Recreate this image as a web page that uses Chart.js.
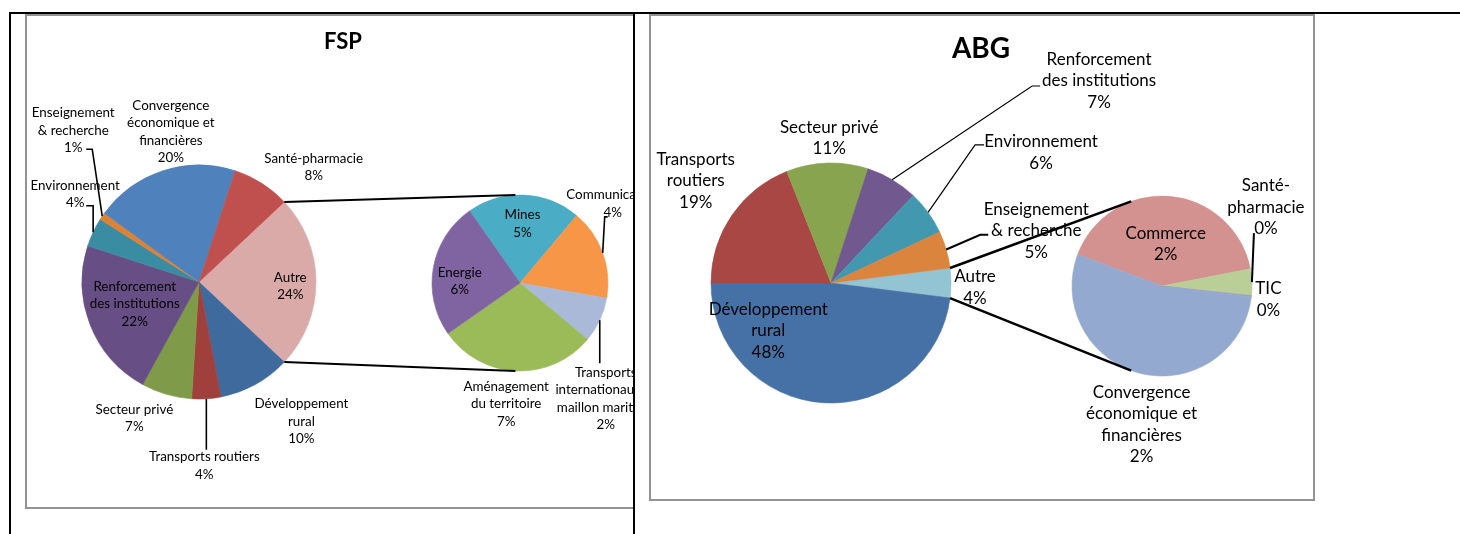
<!DOCTYPE html>
<html><head><meta charset="utf-8">
<script src="https://cdn.jsdelivr.net/npm/chart.js@4"></script>
<style>
html,body{margin:0;padding:0;background:#fff;width:1460px;height:534px;overflow:hidden;position:relative;font-family:Lato,sans-serif}
.abs{position:absolute}
#fspWrap{left:0;top:0;width:633px;height:534px;overflow:hidden}
#abgWrap{left:0;top:0;width:1460px;height:534px}
canvas{position:absolute;left:0;top:0}
</style></head><body>
<div class="abs" id="fspWrap">
  <div class="abs" style="left:25px;top:14px;width:700px;height:495px;border:2px solid #939393;box-sizing:border-box"></div>
  <canvas id="fspMain" width="633" height="534"></canvas>
  <canvas id="fspSub" width="633" height="534"></canvas>
</div>
<div class="abs" style="left:649px;top:14px;width:666px;height:487px;border:2px solid #939393;box-sizing:border-box"></div>
<div class="abs" id="abgWrap">
  <canvas id="abgMain" width="1460" height="534"></canvas>
  <canvas id="abgSub" width="1460" height="534"></canvas>
</div>
<div class="abs" style="left:9px;top:12px;width:1451px;height:2px;background:#000"></div>
<div class="abs" style="left:9px;top:12px;width:2px;height:522px;background:#000"></div>
<div class="abs" style="left:633px;top:12px;width:2px;height:522px;background:#000"></div>
<script>
// ---------- DATA ----------
const fspTitle = 'FSP';
const fspCategories = ['Autre', 'Développement\nrural', 'Transports routiers', 'Secteur privé',
  'Renforcement\ndes institutions', 'Environnement', 'Enseignement\n& recherche',
  'Convergence\néconomique et\nfinancières', 'Santé-pharmacie'];
const fspValues = [24, 10, 4, 7, 22, 4, 1, 20, 8];
const fspOtherCategories = ['Mines', 'Communication', 'Transports\ninternationaux et\nmaillon maritime',
  'Aménagement\ndu territoire', 'Energie'];
const fspOtherValues = [5, 4, 2, 7, 6];

const abgTitle = 'ABG';
const abgCategories = ['Autre', 'Développement\nrural', 'Transports\nroutiers', 'Secteur privé',
  'Renforcement\ndes institutions', 'Environnement', 'Enseignement\n& recherche'];
const abgValues = [4, 48, 19, 11, 7, 6, 5];
const abgOtherCategories = ['Commerce', 'Santé-\npharmacie', 'TIC', 'Convergence\néconomique et\nfinancières'];
const abgOtherValues = [1.65, 0.19, 0.01, 2.15];

// ---------- STYLES ----------
const fspColors = ['#DAAAA9', '#3E6A9D', '#9F403D', '#7F9A48', '#674F85', '#3A8CA2', '#DD8235', '#4F81BD', '#C0504D'];
const fspOtherColors = ['#4BACC6', '#F79646', '#AAB9D8', '#9BBB59', '#8064A2'];
const abgColors = ['#93C4D4', '#4671A6', '#A84744', '#89A44E', '#71588F', '#4198AF', '#DB843D'];
const abgOtherColors = ['#D3918F', '#B9CF97', '#A99BC0', '#94A9D0'];

const fspFont = '13.4px Lato', fspLH = 17.5;
const abgFont = '17px Lato', abgLH = 21.5;

// label placement: anchor at k*radius on mid-angle, then offset
const fspPlace = [
  {k: .78, dx: 0, dy: 4},
  {k: 1, dx: 46, dy: 37},
  {k: 1, dx: -2, dy: 67, leader: [[2, -16]]},
  {k: 1, dx: -32, dy: 24},
  {k: .6, dx: 1, dy: -4},
  {k: 1, dx: -18, dy: -38, leader: [[18, 11.5], [11, 11.5]]},
  {k: 1, dx: -29, dy: -86, leader: [[19, 19], [13, 19]]},
  {k: 1, dx: 8, dy: -39},
  {k: 1, dx: 52, dy: -16}
];
const fspOtherPlace = [
  {k: .65, dx: 0, dy: -2},
  {k: 1, dx: 10, dy: -49, leader: [[-8, 13], [-5, 13]]},
  {k: 1, dx: 6, dy: 78.5, leader: [[-6, -35.5]]},
  {k: 1, dx: -10, dy: 33},
  {k: .65, dx: -4, dy: 8}
];
const abgPlace = [
  {k: 1, dx: 24, dy: 4.5},
  {k: .5, dx: -59, dy: -12},
  {k: 1, dx: -36, dy: -35},
  {k: 1, dx: 2, dy: -25},
  {k: 1, dx: 207, dy: -99, leader: [[-67, 5.3], [-59, 5.3]], lw: 1.2},
  {k: 1, dx: 113, dy: -60, leader: [[-66, -7.5], [-57, -7.5]], lw: 1.2},
  {k: 1, dx: 90, dy: -19, leader: [[-56, 4.3], [-48, 4.3]], lw: 2}
];
const abgOtherPlace = [
  {k: .5, dx: 0, dy: 3},
  {k: 1, dx: 14, dy: -75, leader: [[-12, 26]], lw: 2},
  {k: 1, dx: 17, dy: 3},
  {k: 1, dx: 1, dy: 51}
];

// ---------- PLUGINS ----------
function labelPlugin(place, font, lh, total, lw) {
  return {
    id: 'sliceLabels',
    afterDraw(chart) {
      const ctx = chart.ctx;
      const meta = chart.getDatasetMeta(0);
      const vals = chart.data.datasets[0].data;
      ctx.save();
      ctx.font = font;
      ctx.fillStyle = '#000';
      ctx.strokeStyle = '#000';
      ctx.textAlign = 'center';
      ctx.textBaseline = 'middle';
      meta.data.forEach((arc, i) => {
        const p = place[i];
        const mid = (arc.startAngle + arc.endAngle) / 2;
        const R = arc.outerRadius;
        const cx = arc.x + Math.cos(mid) * R * p.k + p.dx;
        const cy = arc.y + Math.sin(mid) * R * p.k + p.dy;
        const lines = chart.data.labels[i].split('\n').concat([Math.round(vals[i] / total * 100) + '%']);
        const y0 = cy - (lines.length - 1) * lh / 2;
        lines.forEach((t, j) => ctx.fillText(t, cx, y0 + j * lh));
        if (p.leader) {
          ctx.lineWidth = p.lw || lw;
          ctx.beginPath();
          ctx.moveTo(arc.x + Math.cos(mid) * R, arc.y + Math.sin(mid) * R);
          p.leader.forEach(q => ctx.lineTo(cx + q[0], cy + q[1]));
          ctx.stroke();
        }
      });
      ctx.restore();
    }
  };
}
function titlePlugin(text, font, x, y) {
  return {
    id: 'panelTitle',
    afterDraw(chart) {
      const ctx = chart.ctx;
      ctx.save();
      ctx.font = font; ctx.fillStyle = '#000';
      ctx.textAlign = 'center'; ctx.textBaseline = 'middle';
      ctx.fillText(text, x, y);
      ctx.restore();
    }
  };
}
function connectorPlugin(getMain, subAngles, lw) {
  return {
    id: 'pieConnectors',
    afterDraw(chart) {
      const main = getMain();
      if (!main) return;
      const a = main.getDatasetMeta(0).data[0];
      const b = chart.getDatasetMeta(0).data[0];
      const rad = d => (d - 90) * Math.PI / 180;
      const ctx = chart.ctx;
      ctx.save();
      ctx.strokeStyle = '#000';
      ctx.lineWidth = lw;
      const pts = [[a.startAngle, subAngles[0]], [a.endAngle, subAngles[1]]];
      pts.forEach(([ma, sa]) => {
        ctx.beginPath();
        ctx.moveTo(a.x + Math.cos(ma) * a.outerRadius, a.y + Math.sin(ma) * a.outerRadius);
        ctx.lineTo(b.x + Math.cos(rad(sa)) * b.outerRadius, b.y + Math.sin(rad(sa)) * b.outerRadius);
        ctx.stroke();
      });
      ctx.restore();
    }
  };
}

function pieChart(id, cx, cy, radius, labels, values, colors, rotation, plugins) {
  const canvas = document.getElementById(id);
  const W = canvas.width, H = canvas.height, s = 40;
  return new Chart(canvas, {
    type: 'pie',
    data: {labels: labels, datasets: [{data: values, backgroundColor: colors, borderColor: colors, borderWidth: 0.6}]},
    options: {
      responsive: false, animation: false, events: [],
      rotation: rotation, radius: radius,
      layout: {padding: {left: cx - s, right: W - cx - s, top: cy - s, bottom: H - cy - s}},
      plugins: {legend: {display: false}, tooltip: {enabled: false}, title: {display: false}}
    },
    plugins: plugins
  });
}

const sum = a => a.reduce((x, y) => x + y, 0);

// ---------- FSP ----------
const fspTotal = sum(fspValues);
const fspMain = pieChart('fspMain', 199, 282, 117, fspCategories, fspValues, fspColors, 46.8,
  [labelPlugin(fspPlace, fspFont, fspLH, fspTotal, 1.6), titlePlugin(fspTitle, 'bold 22px Lato', 343, 42)]);
const fspSub = pieChart('fspSub', 520, 283, 88, fspOtherCategories, fspOtherValues, fspOtherColors, -35,
  [labelPlugin(fspOtherPlace, fspFont, fspLH, fspTotal, 1.6), connectorPlugin(() => fspMain, [-3, 183], 2)]);

// ---------- ABG ----------
const abgTotal = sum(abgValues);
const abgMain = pieChart('abgMain', 831, 283, 120, abgCategories, abgValues, abgColors, 82.8,
  [labelPlugin(abgPlace, abgFont, abgLH, abgTotal, 1.5), titlePlugin(abgTitle, 'bold 28px Lato', 981, 49)]);
const abgSub = pieChart('abgSub', 1162, 286, 90, abgOtherCategories, abgOtherValues, abgOtherColors, -69.5,
  [labelPlugin(abgOtherPlace, abgFont, abgLH, abgTotal, 1.5), connectorPlugin(() => abgMain, [-20, 200], 2.5)]);
</script>
</body></html>
